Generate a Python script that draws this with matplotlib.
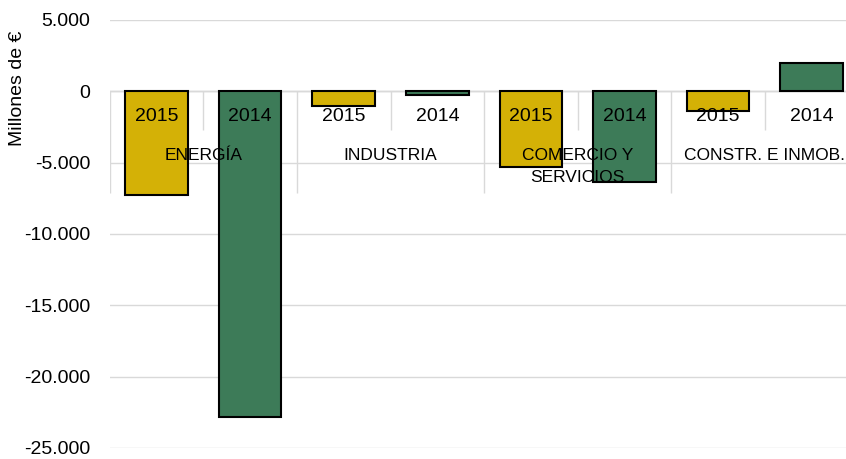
import matplotlib
matplotlib.use('Agg')
import matplotlib.pyplot as plt
from matplotlib.ticker import FuncFormatter, MultipleLocator

sectors = ['ENERGÍA', 'INDUSTRIA', 'COMERCIO Y\nSERVICIOS', 'CONSTR. E INMOB.']
years = ['2015', '2014']
values_2015 = [-7300, -1050, -5330, -1400]
values_2014 = [-22800, -280, -6380, 1960]

gold = '#d4b106'
green = '#3d7b58'

plt.rcParams['font.family'] = ['Liberation Sans', 'DejaVu Sans']

fig = plt.figure(figsize=(8.46, 4.59), dpi=100)
ax = fig.add_axes([109.7 / 846, 1 - 448 / 459, 1 - 109.7 / 846, 428 / 459])

pos_2015 = [2 * i for i in range(len(sectors))]
pos_2014 = [2 * i + 1 for i in range(len(sectors))]
w = 0.67
ax.bar(pos_2015, values_2015, width=w, color=gold, edgecolor='black', linewidth=1.5, zorder=2)
ax.bar(pos_2014, values_2014, width=w, color=green, edgecolor='black', linewidth=1.5, zorder=2)

ax.set_ylim(-25000, 5000)
ax.set_xlim(-0.5, 7.366)
ax.yaxis.set_major_locator(MultipleLocator(5000))
ax.yaxis.set_major_formatter(FuncFormatter(lambda v, p: f'{int(v):,}'.replace(',', '.')))
ax.grid(axis='y', color='#d9d9d9', linewidth=1, zorder=0)
ax.axhline(0, color='#c8c8c8', linewidth=1, zorder=1)
for s in ax.spines.values():
    s.set_visible(False)
ax.set_xticks([])
ax.tick_params(axis='y', length=0, pad=14, labelsize=14)

# two-level category axis hanging below zero
n = len(sectors)
ax.vlines([2 * i + 0.5 for i in range(n)], -2700, 0, color='#d9d9d9', linewidth=1, zorder=1)
ax.vlines([2 * i - 0.5 for i in range(n)], -7150, 0, color='#d9d9d9', linewidth=1, zorder=1)
for i, name in enumerate(sectors):
    ax.text(2 * i, -1750, years[0], ha='center', va='center', fontsize=14, zorder=5)
    ax.text(2 * i + 1, -1750, years[1], ha='center', va='center', fontsize=14, zorder=5)
    if '\n' in name:
        ax.text(2 * i + 0.5, -4000, name, ha='center', va='top',
                fontsize=12.5, zorder=5, linespacing=1.55)
    else:
        ax.text(2 * i + 0.5, -4500, name, ha='center', va='center', fontsize=12.5, zorder=5)

fig.text(18 / 846, 1 - 88 / 459, 'Millones de €', rotation=90, ha='center', va='center', fontsize=14)

fig.savefig('out.png', dpi=100)
